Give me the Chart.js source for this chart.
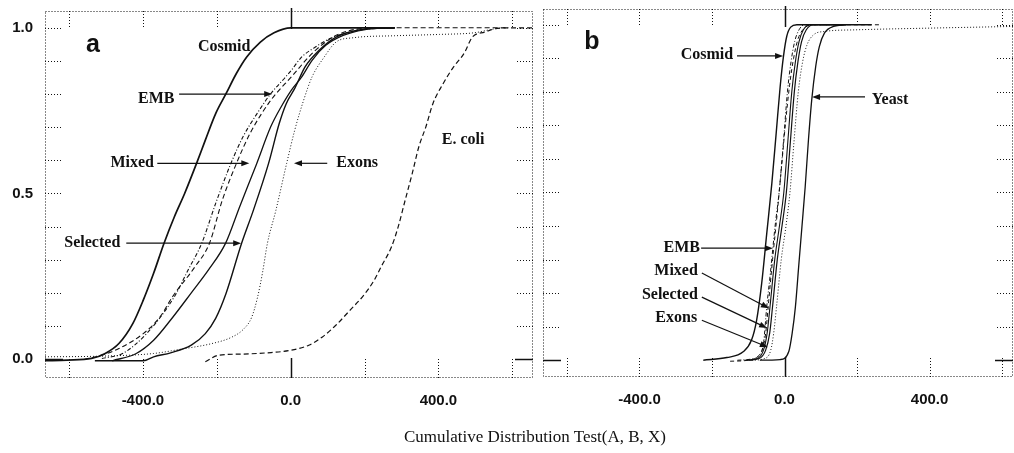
<!DOCTYPE html>
<html>
<head>
<meta charset="utf-8">
<script src="https://cdn.jsdelivr.net/npm/chart.js@4.4.1/dist/chart.umd.min.js"></script>
<style>
  body { margin: 0; background: #fff; }
  #wrap { position: relative; width: 1014px; height: 453px; overflow: hidden; }
  #boxA { position: absolute; left: 0; top: 0; width: 540px; height: 453px; }
  #boxB { position: absolute; left: 500px; top: 0; width: 514px; height: 453px; }
  #xTitle {
    position: absolute; left: 335px; width: 400px; top: 427px; text-align: center;
    font: 17px "Liberation Serif", serif; color: #111;
  }
</style>
</head>
<body>
<div id="wrap">
  <div id="boxA"><canvas id="chartA" width="540" height="453"></canvas></div>
  <div id="boxB"><canvas id="chartB" width="514" height="453"></canvas></div>
  <div id="xTitle">Cumulative Distribution Test(A, B, X)</div>
</div>
<script>
// tick values
const xTickVals = [-600, -400, -200, 0, 200, 400, 600];
const xLabelVals = [-400, 0, 400];
const yTickVals = [0, 0.1, 0.2, 0.3, 0.4, 0.5, 0.6, 0.7, 0.8, 0.9, 1.0];
const yLabelVals = [0, 0.5, 1.0];

// panel a
const cosmidA_x = [-665, -605, -539, -502, -465, -427, -399, -371, -343, -315, -287, -255, -231, -203, -175, -147, -119, -82, -45, 0, 48, 282];
const cosmidA_y = [-0.005, -0.003, 0.002, 0.017, 0.047, 0.108, 0.178, 0.259, 0.349, 0.429, 0.5, 0.59, 0.661, 0.741, 0.801, 0.862, 0.912, 0.957, 0.985, 1.0, 1.0, 1.0];
const embA_x = [-511, -455, -390, -315, -278, -241, -203, -162, -129, -91, -54, -17, 2, 30, 67, 105, 142, 189, 282];
const embA_y = [0.002, 0.017, 0.077, 0.188, 0.268, 0.349, 0.47, 0.59, 0.671, 0.741, 0.801, 0.847, 0.872, 0.912, 0.942, 0.967, 0.982, 0.994, 1.0];
const yeastA_x = [-558, -511, -465, -399, -353, -320, -259, -220, -185, -147, -110, -54, 2, 67, 133, 235, 581];
const yeastA_y = [-0.001, 0.012, 0.032, 0.077, 0.128, 0.188, 0.279, 0.349, 0.48, 0.59, 0.681, 0.781, 0.852, 0.932, 0.982, 1.0, 1.0];
const mixedA_x = [-483, -418, -371, -325, -269, -222, -176, -138, -92, -54, -26, 2, 30, 58, 95, 142, 198, 282];
const mixedA_y = [-0.005, 0.017, 0.057, 0.118, 0.2, 0.27, 0.35, 0.46, 0.59, 0.701, 0.761, 0.812, 0.852, 0.902, 0.947, 0.977, 0.994, 1.0];
const selectedA_x = [-530, -399, -371, -325, -269, -231, -203, -175, -133, -101, -60, -31, -12, 11, 39, 77, 123, 189, 282];
const selectedA_y = [-0.005, -0.005, 0.007, 0.019, 0.042, 0.077, 0.123, 0.198, 0.349, 0.449, 0.59, 0.711, 0.771, 0.817, 0.882, 0.932, 0.972, 0.994, 1.0];
const exonsA_x = [-665, -511, -371, -297, -213, -160, -128, -106, -90, -76, -63, -40, -11, 11, 35, 58, 91, 123, 170, 282, 403, 497, 553, 590];
const exonsA_y = [0.007, 0.009, 0.017, 0.03, 0.047, 0.066, 0.09, 0.125, 0.185, 0.262, 0.349, 0.449, 0.59, 0.691, 0.781, 0.852, 0.912, 0.957, 0.97, 0.976, 0.98, 0.985, 0.997, 1.0];
const ecoliA_x = [-231, -194, -138, -63, 2, 49, 86, 123, 161, 198, 226, 245, 273, 291, 310, 329, 347, 366, 385, 413, 441, 469, 492, 525, 553, 581, 655];
const ecoliA_y = [-0.008, 0.012, 0.015, 0.019, 0.027, 0.042, 0.067, 0.103, 0.148, 0.193, 0.238, 0.279, 0.339, 0.399, 0.48, 0.56, 0.641, 0.701, 0.771, 0.832, 0.882, 0.922, 0.972, 0.987, 0.997, 1.0, 1.0];

// panel b
const cosmidB_x = [-224, -159, -114, -91, -77, -63, -49, -35, -23, -12, -3, 6, 17, 34, 170];
const cosmidB_y = [0, 0.008, 0.025, 0.06, 0.119, 0.229, 0.378, 0.527, 0.677, 0.816, 0.905, 0.965, 0.993, 1.0, 1.0];
const embB_x = [-130, -90, -70, -58, -49, -39, -26, -15, -3, 8, 18, 28, 40, 55, 120];
const embB_y = [0, 0.004, 0.015, 0.05, 0.16, 0.26, 0.4, 0.5, 0.65, 0.8, 0.89, 0.95, 0.985, 1.0, 1.0];
const dashB_x = [-150, -100, -75, -62, -52, -45, -33, -20, -8, 3, 14, 25, 38, 55, 80, 263];
const dashB_y = [-0.003, 0, 0.01, 0.03, 0.08, 0.16, 0.3, 0.44, 0.58, 0.71, 0.82, 0.9, 0.96, 0.99, 1.0, 1.0];
const mixedB_x = [-110, -75, -58, -48, -40, -27, -14, -2, 9, 20, 30, 40, 52, 70, 150];
const mixedB_y = [0, 0.005, 0.03, 0.08, 0.16, 0.3, 0.4, 0.5, 0.65, 0.8, 0.89, 0.95, 0.985, 1.0, 1.0];
const selectedB_x = [-100, -70, -52, -41, -33, -20, -7, 5, 16, 27, 37, 47, 60, 80, 160];
const selectedB_y = [0, 0.005, 0.03, 0.08, 0.16, 0.3, 0.4, 0.5, 0.65, 0.8, 0.89, 0.95, 0.985, 1.0, 1.0];
const exonsB_x = [-90, -55, -38, -30, -22, -9, 4, 15, 26, 38, 50, 62, 80, 110, 200, 400, 630];
const exonsB_y = [0, 0.005, 0.03, 0.08, 0.16, 0.3, 0.4, 0.5, 0.65, 0.8, 0.89, 0.94, 0.97, 0.98, 0.985, 0.99, 0.995];
const yeastB_x = [-68, -12, 12, 21, 30, 39, 48, 57, 66, 75, 86, 96, 110, 135, 172, 240];
const yeastB_y = [0, 0.002, 0.027, 0.08, 0.159, 0.279, 0.398, 0.517, 0.657, 0.776, 0.876, 0.935, 0.975, 0.995, 1.0, 1.0];

const ink = "#111";
const tickFont = { family: "'Liberation Sans', Arial, sans-serif", size: 15, weight: "bold" };
const noteFont = "bold 16px 'Liberation Serif', serif";
const letterFont = "bold 25px 'Liberation Sans', sans-serif";

// labels + arrows, in data units
const notesA = [
    { text: "a", x: -535, y: 0.947, font: letterFont },
    { text: "Cosmid", x: -180, y: 0.941 },
    { text: "EMB", x: -364, y: 0.787 },
    { text: "Mixed", x: -429, y: 0.591 },
    { text: "Exons", x: 180, y: 0.591 },
    { text: "Selected", x: -537, y: 0.35 },
    { text: "E. coli", x: 467, y: 0.661 },
];
const arrowsA = [
    [-302, 0.8, -50, 0.8],
    [-361, 0.591, -112, 0.591],
    [99, 0.591, 9, 0.591],
    [-445, 0.35, -134, 0.35],
];
const notesB = [
    { text: "b", x: -531, y: 0.949, font: letterFont },
    { text: "Cosmid", x: -214, y: 0.91 },
    { text: "Yeast", x: 291, y: 0.776 },
    { text: "EMB", x: -233, y: 0.334, align: "right" },
    { text: "Mixed", x: -239, y: 0.266, align: "right" },
    { text: "Selected", x: -239, y: 0.194, align: "right" },
    { text: "Exons", x: -241, y: 0.125, align: "right" },
];
const arrowsB = [
    [-131, 0.907, -4, 0.907],
    [222, 0.785, 76, 0.785],
    [-230, 0.334, -32, 0.334],
    [-228, 0.26, -43, 0.155],
    [-228, 0.188, -48, 0.096],
    [-228, 0.119, -46, 0.039],
];

const pts = (xs, ys) => xs.map((x, i) => ({ x, y: ys[i] }));

const series = (label, xs, ys, width, dash) => ({
    label,
    data: pts(xs, ys),
    showLine: true,
    borderColor: ink,
    borderWidth: width,
    borderDash: dash,
    pointRadius: 0,
    cubicInterpolationMode: "monotone",
    fill: false,
});

// dotted frame, inward ticks, notes
const framePlugin = {
    id: "frame",
    afterDatasetsDraw(chart, args, opts) {
        const { ctx, chartArea: a, scales: { x, y } } = chart;
        const seg = (x1, y1, x2, y2) => { ctx.beginPath(); ctx.moveTo(x1, y1); ctx.lineTo(x2, y2); ctx.stroke(); };
        ctx.save();
        ctx.strokeStyle = ink;
        ctx.lineWidth = 1;
        ctx.setLineDash([1, 2]);
        ctx.strokeRect(a.left + 0.5, a.top + 0.5, a.width - 1, a.height - 1);

        xTickVals.forEach((v) => {
            const px = Math.round(x.getPixelForValue(v)) + 0.5;
            ctx.setLineDash(v === 0 ? [] : [1, 2]);
            ctx.lineWidth = v === 0 ? 1.5 : 1;
            seg(px, a.bottom, px, a.bottom - 20);
            seg(px, a.top - (v === 0 ? 3 : 0), px, a.top + 18);
        });
        yTickVals.forEach((v) => {
            const py = Math.round(y.getPixelForValue(v)) + 0.5;
            ctx.setLineDash(v === 0 ? [] : [1, 2]);
            ctx.lineWidth = v === 0 ? 1.5 : 1;
            seg(a.left, py, a.left + 18, py);
            seg(a.right, py, a.right - 18, py);
        });

        ctx.setLineDash([]);
        ctx.fillStyle = ink;
        ctx.textBaseline = "middle";
        opts.notes.forEach((n) => {
            ctx.font = n.font || noteFont;
            ctx.textAlign = n.align || "center";
            ctx.fillText(n.text, x.getPixelForValue(n.x), y.getPixelForValue(n.y));
        });
        ctx.lineWidth = 1.2;
        opts.arrows.forEach(([x1, y1, x2, y2]) => {
            const ax = x.getPixelForValue(x1), ay = y.getPixelForValue(y1);
            const bx = x.getPixelForValue(x2), by = y.getPixelForValue(y2);
            const ang = Math.atan2(by - ay, bx - ax);
            seg(ax, ay, bx - 5 * Math.cos(ang), by - 5 * Math.sin(ang));
            ctx.beginPath();
            ctx.moveTo(bx, by);
            ctx.lineTo(bx - 8 * Math.cos(ang) + 3 * Math.sin(ang), by - 8 * Math.sin(ang) - 3 * Math.cos(ang));
            ctx.lineTo(bx - 8 * Math.cos(ang) - 3 * Math.sin(ang), by - 8 * Math.sin(ang) + 3 * Math.cos(ang));
            ctx.closePath();
            ctx.fill();
        });
        ctx.restore();
    },
};

// no extra room for the end labels, the frame is placed by hand
const noEdgePad = (s) => {
    s.paddingTop = 0;
    s.paddingBottom = 0;
    s.paddingLeft = 0;
    s.paddingRight = 0;
};

const makeChart = (id, datasets, range, notes, arrows, showY) => new Chart(document.getElementById(id), {
    type: "scatter",
    data: { datasets },
    plugins: [framePlugin],
    options: {
        responsive: false,
        animation: false,
        layout: { padding: range.pad },
        plugins: {
            legend: { display: false },
            tooltip: { enabled: false },
            frame: { notes, arrows },
        },
        scales: {
            x: {
                type: "linear",
                min: range.xmin,
                max: range.xmax,
                grid: { display: false, drawTicks: false },
                border: { display: false },
                ticks: { color: ink, font: tickFont, padding: 14, autoSkip: false, maxRotation: 0, callback: (v) => v.toFixed(1) },
                afterBuildTicks: (s) => { s.ticks = xLabelVals.map((v) => ({ value: v })); },
                afterFit: (s) => { s.height = range.xh; noEdgePad(s); },
            },
            y: {
                type: "linear",
                min: range.ymin,
                max: range.ymax,
                grid: { display: false, drawTicks: false },
                border: { display: false },
                ticks: { display: showY, color: ink, font: tickFont, padding: 12, callback: (v) => v.toFixed(1) },
                afterBuildTicks: (s) => { s.ticks = yLabelVals.map((v) => ({ value: v })); },
                afterFit: (s) => { s.width = range.yw; noEdgePad(s); },
            },
        },
    },
});

makeChart("chartA", [
    series("Cosmid", cosmidA_x, cosmidA_y, 1.7, []),
    series("EMB", embA_x, embA_y, 1.1, [4, 2, 1, 2]),
    series("Yeast", yeastA_x, yeastA_y, 1.1, [5, 3]),
    series("Mixed", mixedA_x, mixedA_y, 1.3, []),
    series("Selected", selectedA_x, selectedA_y, 1.4, []),
    series("Exons", exonsA_x, exonsA_y, 1, [1, 2]),
    series("E. coli", ecoliA_x, ecoliA_y, 1.2, [5, 3]),
], { xmin: -665, xmax: 656, ymin: -0.057, ymax: 1.0507, xh: 75, yw: 45, pad: { top: 11, right: 7, left: 0, bottom: 0 } },
notesA, arrowsA, true);

makeChart("chartB", [
    series("Cosmid", cosmidB_x, cosmidB_y, 1.4, []),
    series("EMB", embB_x, embB_y, 1, [4, 2, 1, 2]),
    series("Dashed", dashB_x, dashB_y, 1, [4, 3]),
    series("Mixed", mixedB_x, mixedB_y, 1.1, []),
    series("Selected", selectedB_x, selectedB_y, 1.2, []),
    series("Exons", exonsB_x, exonsB_y, 1, [1, 2]),
    series("Yeast", yeastB_x, yeastB_y, 1.3, []),
], { xmin: -666, xmax: 630, ymin: -0.05, ymax: 1.047, xh: 76, yw: 43, pad: { top: 9, right: 1, left: 0, bottom: 0 } },
notesB, arrowsB, false);
</script>
</body>
</html>
